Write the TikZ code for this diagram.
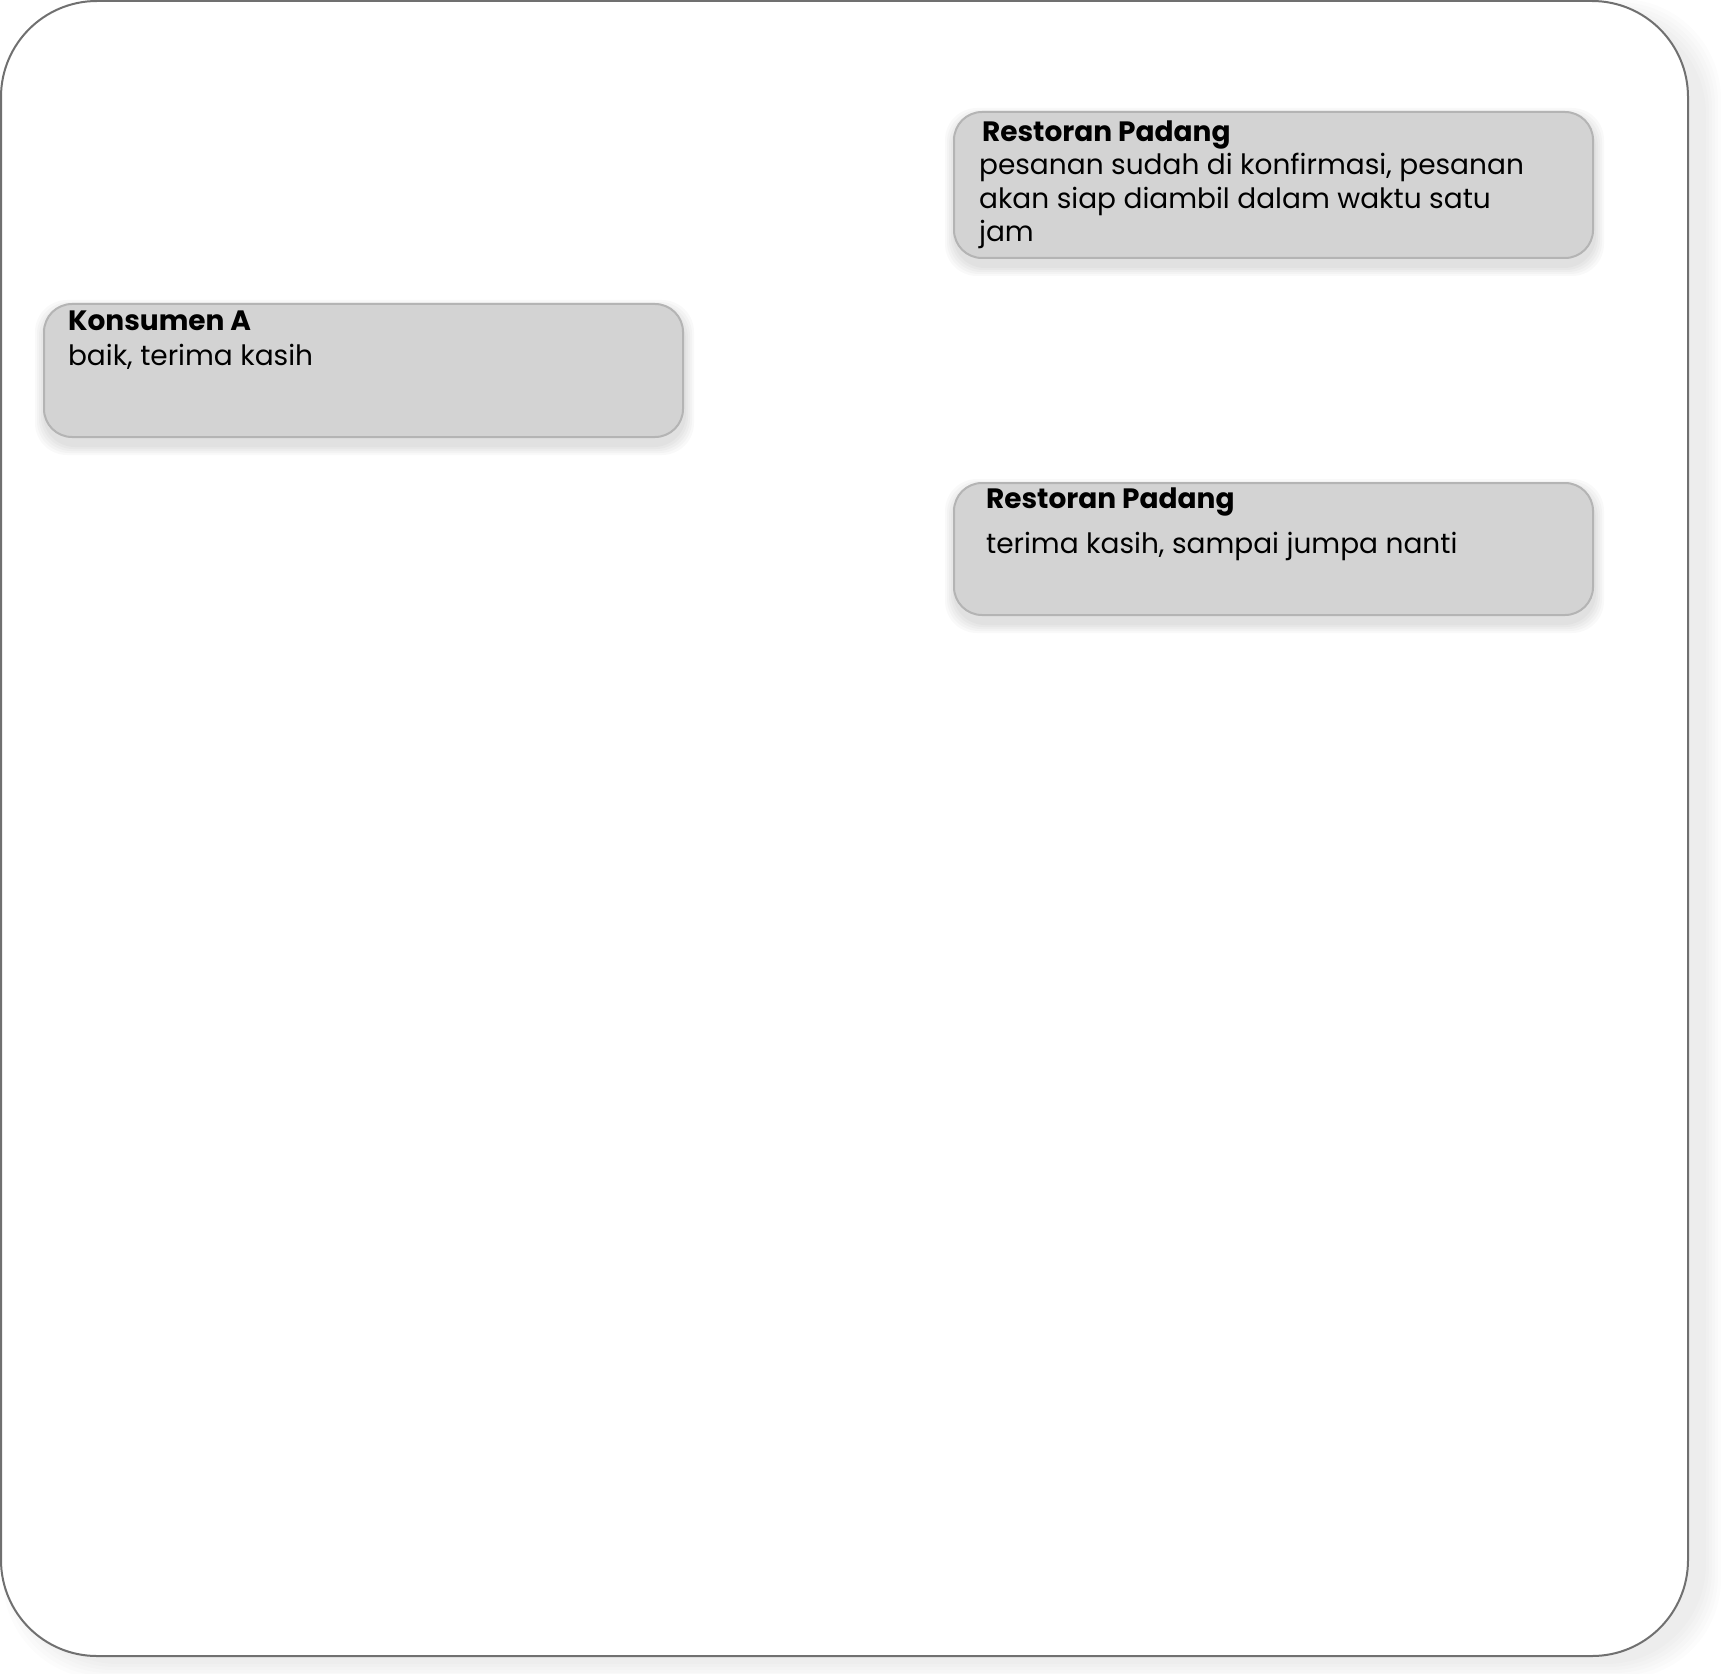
\documentclass[tikz,border=0pt]{standalone}
\usepackage{fontspec}
\setmainfont{Poppins}
\usetikzlibrary{backgrounds}
\definecolor{boxfill}{HTML}{D3D3D3}
\definecolor{boxline}{HTML}{B4B4B4}
\definecolor{frameline}{HTML}{707070}

\begin{document}
\begin{tikzpicture}[x=0.5pt, y=-0.5pt,
  bubble/.style={draw=boxline, fill=boxfill, line width=1pt, rounded corners=14pt,
    minimum width=319.5pt, anchor=north west, inner sep=0pt},
  who/.style={anchor=base west, font=\fontsize{14}{17}\selectfont\bfseries},
  says/.style={anchor=base west, font=\fontsize{14}{17}\selectfont},
  haze/.style={fill=black, opacity=0.025, rounded corners=16pt}]
\useasboundingbox (0,0) rectangle (1728,1674);

% chat bubbles
\node[bubble, minimum height=73pt] (resto1) at (953,111) {};
\node[who] (resto1name) at (975,142) {Restoran Padang};
\node[says] (resto1l1) at (972,175) {pesanan sudah di konfirmasi, pesanan};
\node[says] (resto1l2) at (972,209) {akan siap diambil dalam waktu satu};
\node[says] (resto1l3) at (972,242) {jam};

\node[bubble, minimum height=66.5pt] (kons) at (43,303) {};
\node[who] (konsname) at (61,331) {Konsumen A};
\node[says] (konsl1) at (61,365) {baik, terima kasih};

\node[bubble, minimum height=66pt] (resto2) at (953,482) {};
\node[who] (resto2name) at (979,508) {Restoran Padang};
\node[says] (resto2l1) at (979,553) {terima kasih, sampai jumpa nanti};

% frame and shadows behind
\begin{scope}[on background layer]
\foreach \k in {0,...,5}
  \fill[black, opacity=0.012, rounded corners=50pt] (18-\k*3,14-\k*3) rectangle (1706+\k*3,1664+\k*3);
\draw[frameline, fill=white, line width=1pt, rounded corners=48pt] (1,1) rectangle (1688,1656);
\foreach \b in {resto1,kons,resto2}
  \foreach \k in {0,...,4}
    \fill[haze] ([xshift=-\k*1pt, yshift=-2.5pt+\k*1pt]\b.north west) rectangle ([xshift=1pt+\k*1pt, yshift=-4.5pt-\k*1pt]\b.south east);
\end{scope}
\end{tikzpicture}
\end{document}
